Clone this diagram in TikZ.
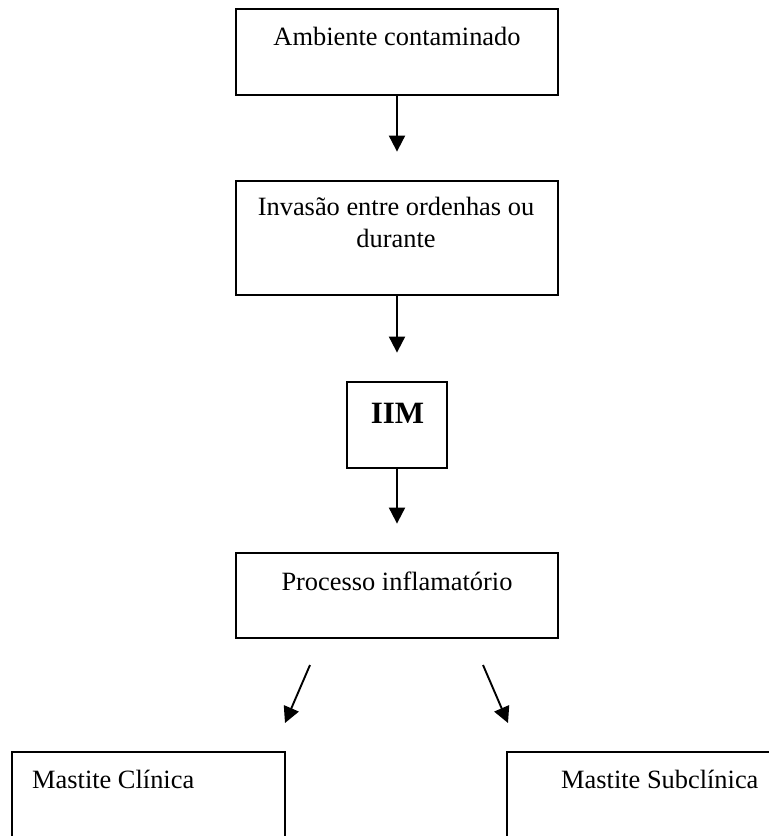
\documentclass[tikz,border=0pt]{standalone}
\usepackage{fontspec}
\setmainfont{Liberation Serif}
\usetikzlibrary{arrows.meta}
\begin{document}
\begin{tikzpicture}[x=1pt,y=-1pt,
  box/.style={draw=black, line width=1.8pt, minimum width=#1, inner sep=0pt},
  txt/.style={font=\fontsize{26.4}{32}\selectfont, inner sep=0pt, anchor=base, align=center},
  flow/.style={line width=1.9pt, -{Triangle[length=16pt,width=16pt]}, shorten >=28.5pt}]
  \useasboundingbox (0,0) rectangle (769,836);
  \clip (0,0) rectangle (769,836);
  \fill[white] (0,0) rectangle (769,836);

  % flow boxes
  \node[box=322pt, minimum height=86pt] (amb) at (397,52) {};
  \node[box=322pt, minimum height=114pt] (inv) at (397,238) {};
  \node[box=100pt, minimum height=86pt] (iim) at (397,425) {};
  \node[box=322pt, minimum height=85pt] (proc) at (397,595.5) {};
  \node[box=273pt, minimum height=170pt] (clin) at (148.5,837) {};
  \node[box=305pt, minimum height=170pt] (subc) at (659.5,837) {};

  % labels
  \node[txt] (tamb) at (397,45) {Ambiente contaminado};
  \node[txt] (tinv) at (396,247) {Invasão entre ordenhas ou\\durante};
  \node[txt, font=\fontsize{31}{36}\selectfont\bfseries] (tiim) at (397.5,423) {IIM};
  \node[txt] (tproc) at (397,590) {Processo inflamatório};
  \node[txt, anchor=base west] (tclin) at (32,788) {Mastite Clínica};
  \node[txt, anchor=base west] (tsubc) at (561,788) {Mastite Subclínica};

  % vertical connectors
  \draw[flow] (amb.south) -- (inv.north);
  \draw[flow] (inv.south) -- (iim.north);
  \draw[flow] (iim.south) -- (proc.north);

  % branching connectors
  \coordinate (lfrom) at (310,665);
  \coordinate (lto) at (285,723);
  \coordinate (rfrom) at (483,665);
  \coordinate (rto) at (508,723);
  \draw[flow, shorten >=0pt] (lfrom) -- (lto);
  \draw[flow, shorten >=0pt] (rfrom) -- (rto);
\end{tikzpicture}
\end{document}
